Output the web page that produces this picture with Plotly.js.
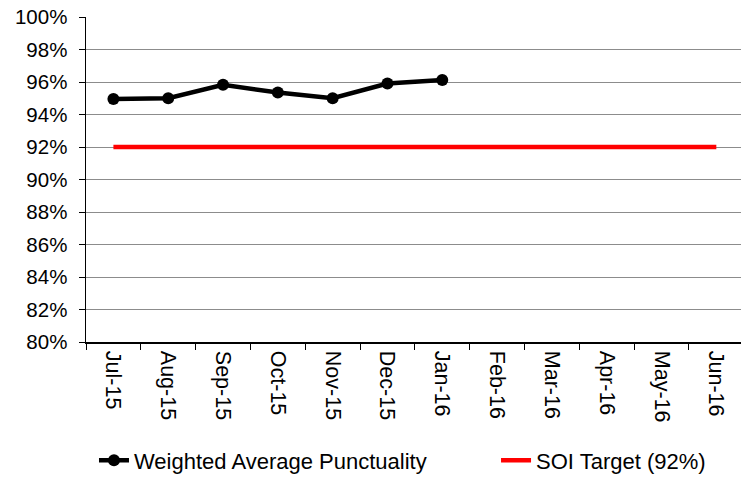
<!DOCTYPE html>
<html>
<head>
<meta charset="utf-8">
<script src="https://cdn.plot.ly/plotly-3.0.1.min.js"></script>
<style>html,body{margin:0;padding:0;background:#fff;}#chart{width:741px;height:494px;}</style>
</head>
<body>
<div id="chart"></div>
<script>
const months = ["Jul-15","Aug-15","Sep-15","Oct-15","Nov-15","Dec-15","Jan-16","Feb-16","Mar-16","Apr-16","May-16","Jun-16"];
const punctualityMonths = ["Jul-15","Aug-15","Sep-15","Oct-15","Nov-15","Dec-15","Jan-16"];
const punctuality = [94.95, 95.0, 95.83, 95.35, 95.0, 95.91, 96.12];
const targetValues = [92,92,92,92,92,92,92,92,92,92,92,92];
const yTicks = [80,82,84,86,88,90,92,94,96,98,100];
const yTickLabels = ["80%","82%","84%","86%","88%","90%","92%","94%","96%","98%","100%"];

const font = {family: "Liberation Sans, Arial, sans-serif", size: 20.5, color: "#000"};
const xFont = {family: "Liberation Sans, Arial, sans-serif", size: 21.5, color: "#000"};
const legendFont = {family: "Liberation Sans, Arial, sans-serif", size: 22, color: "#000"};

const traces = [
  {
    x: punctualityMonths, y: punctuality, type: "scatter", mode: "lines+markers",
    name: "Weighted Average Punctuality", legend: "legend",
    line: {color: "#000", width: 4.5}, marker: {color: "#000", size: 12},
    cliponaxis: false
  },
  {
    x: months, y: targetValues, type: "scatter", mode: "lines",
    name: "SOI Target (92%)", legend: "legend2",
    line: {color: "#ff0000", width: 4.5},
    cliponaxis: false
  }
];

const legendBase = {orientation: "h", xanchor: "left", y: -0.3, yanchor: "top",
  font: legendFont, bgcolor: "rgba(0,0,0,0)", itemwidth: 30};

const layout = {
  width: 741, height: 494,
  margin: {l: 86, r: 0, t: 17, b: 152},
  paper_bgcolor: "#fff", plot_bgcolor: "#fff",
  font: font,
  showlegend: true,
  legend: Object.assign({}, legendBase, {x: 0.0122}),
  legend2: Object.assign({}, legendBase, {x: 0.626}),
  xaxis: {
    type: "category", categoryorder: "array", categoryarray: months,
    range: [-0.5, 11.45],
    tickangle: 90, tickson: "boundaries", ticks: "outside", ticklen: 6, tickcolor: "#000",
    ticklabelstandoff: 3,
    showline: true, linecolor: "#000", linewidth: 1.5, showgrid: false, zeroline: false,
    tickfont: xFont, automargin: false
  },
  yaxis: {
    range: [80, 100], tickmode: "array", tickvals: yTicks, ticktext: yTickLabels,
    ticks: "outside", ticklen: 6, tickcolor: "#000", ticklabelstandoff: 7,
    showline: true, linecolor: "#000", linewidth: 1.5,
    showgrid: true, gridcolor: "#8c8c8c", gridwidth: 1, zeroline: false,
    tickfont: font, automargin: false
  }
};

Plotly.newPlot("chart", traces, layout, {displayModeBar: false, staticPlot: true});
</script>
</body>
</html>
